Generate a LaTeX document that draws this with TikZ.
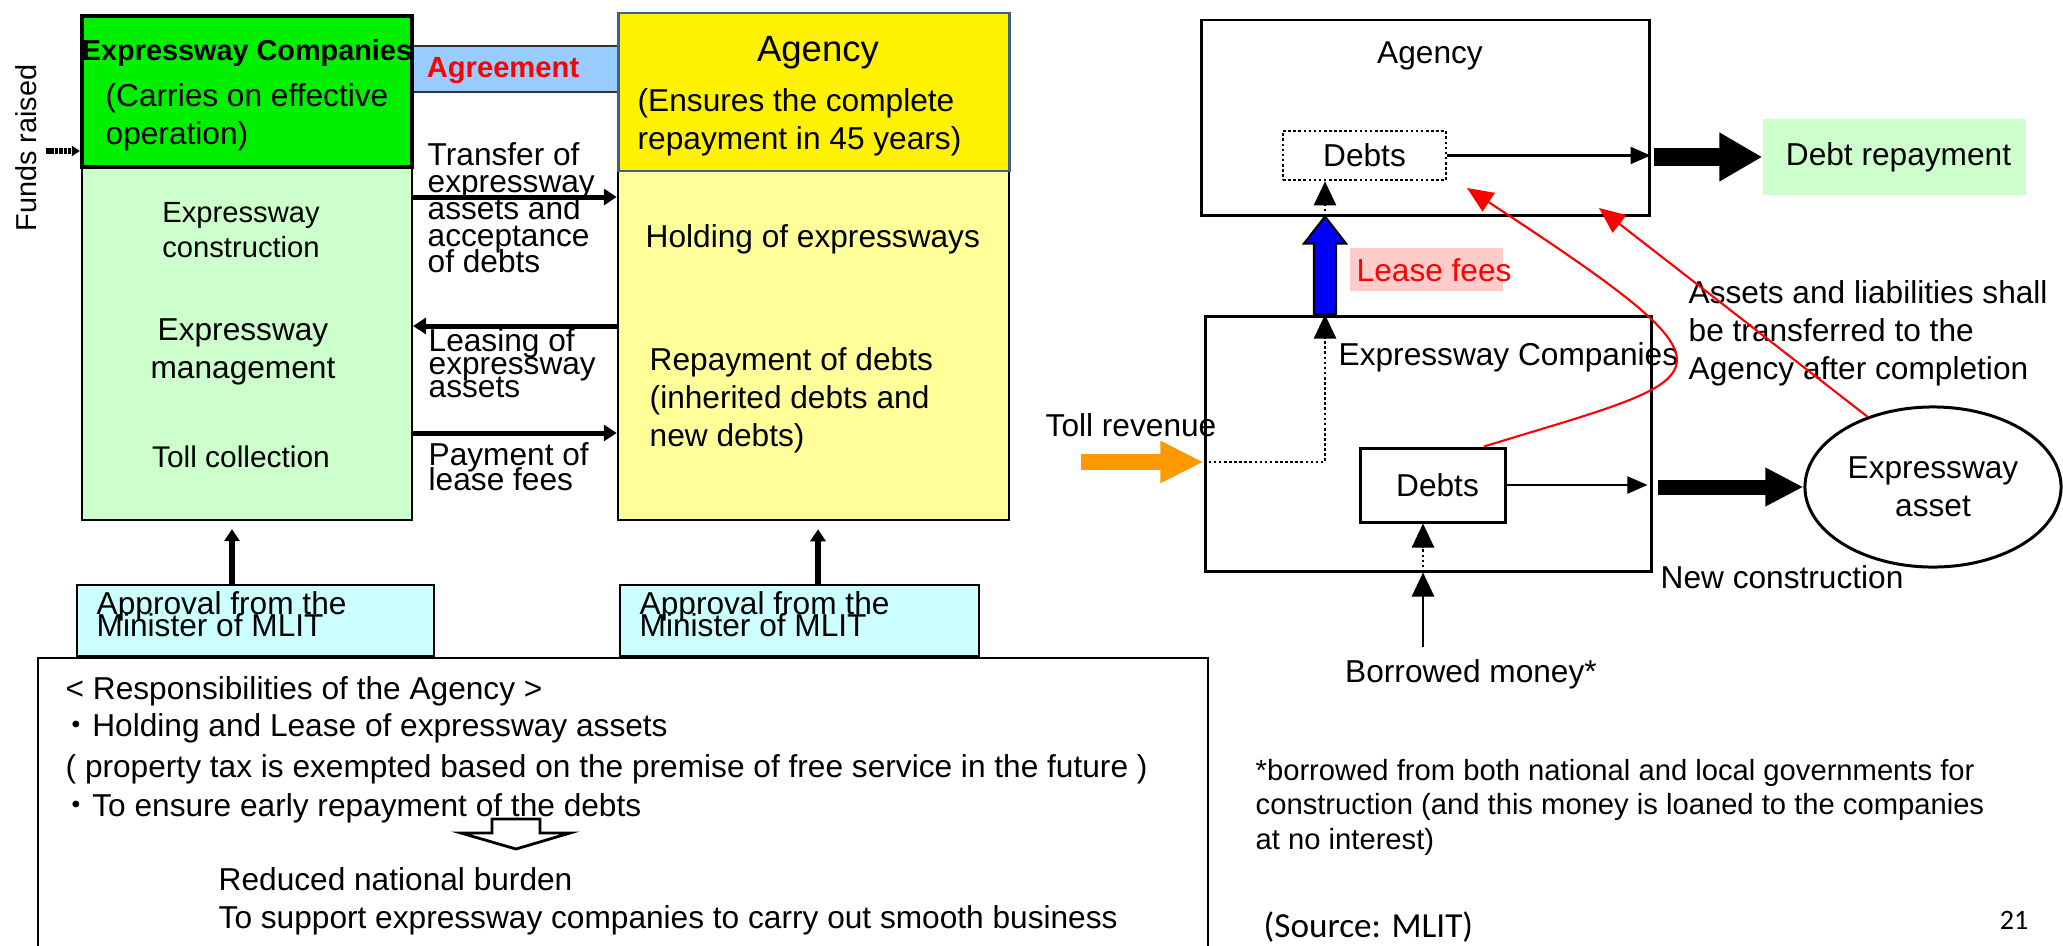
\documentclass[tikz,border=0pt]{standalone}
\usepackage{fontspec}
\setmainfont{Liberation Sans}
\newfontfamily\carlito{Carlito}
\newfontfamily\cjk{Noto Sans CJK JP}
\usetikzlibrary{arrows.meta, fit, shapes.geometric}

\definecolor{hwgreen}{RGB}{0,240,0}
\definecolor{palegreen}{RGB}{204,255,204}
\definecolor{paleyellow}{RGB}{255,255,153}
\definecolor{agreeblue}{RGB}{153,204,255}
\definecolor{palecyan}{RGB}{204,255,255}
\definecolor{pinkbg}{RGB}{255,204,204}
\definecolor{tollorange}{RGB}{255,153,0}
\definecolor{agencyrim}{RGB}{65,95,140}

\newcommand{\fsz}[2]{\fontsize{#1}{#2}\selectfont\lineskiplimit=-\maxdimen}

\tikzset{
  box/.style={draw, inner sep=0pt, line width=0.85pt},
  txt/.style={inner sep=0pt, font=\fsz{9}{10.8}},
  tight/.style={inner sep=0pt, align=left, font=\fsz{9}{7.6}},
  flow/.style={line width=0.05cm, -{Triangle[length=0.13cm, width=0.16cm]}},
  uparrow/.style={line width=0.06cm, -{Triangle[length=0.12cm, width=0.15cm]}},
  linkarrow/.style={line width=0.6pt, -{Triangle[length=0.2cm, width=0.17cm]}},
  dotline/.style={line width=0.75pt, dash pattern=on 0.75pt off 0.7pt},
  dottip/.style={-{Triangle[length=0.24cm, width=0.22cm]}},
  bigarrow/.style={line width=0.18cm, -{Triangle[length=0.43cm, width=0.46cm]}},
  redline/.style={red, line width=0.6pt, -{Triangle[length=0.26cm, width=0.22cm]}},
}

\begin{document}
\begin{tikzpicture}[x=0.01cm, y=-0.01cm]
  \useasboundingbox (0,0) rectangle (2063,945);

  % companies and agency columns
  \node[box, fill=agreeblue, draw=black!80, fit={(412,46) (618,92)}] (agree) {};
  \node[box, fill=palegreen, line width=0.6pt, fit={(82,167) (412,520)}] (ecobody) {};
  \node[box, fill=hwgreen, line width=1.2pt, fit={(82,16) (412,167)}] (ecohead) {};
  \node[box, fill=paleyellow, line width=0.7pt, fit={(618,171) (1009,520)}] (agbody) {};
  \node[box, fill=yellow, draw=agencyrim, fit={(618,13) (1009,171)}] (aghead) {};

  \node[txt, font=\bfseries\fsz{8.2}{10}] (econame) at (247,53) {Expressway Companies};
  \node[txt, anchor=west, align=left] (ecorole) at (105,117) {(Carries on effective\\operation)};
  \node[txt, align=center, font=\fsz{8.3}{10}] (build) at (241,230) {Expressway\\construction};
  \node[txt, align=center] (manage) at (243,352) {Expressway\\management};
  \node[txt, font=\fsz{8.5}{10}] (toll) at (241,457) {Toll collection};
  \node[txt, text=red, font=\bfseries\fsz{8.3}{10}] (agreelbl) at (503,71) {Agreement};

  \node[txt, font=\fsz{10.4}{12}] (agname) at (818,53) {Agency};
  \node[txt, anchor=west, align=left] (agrole) at (637,122) {(Ensures the complete\\repayment in 45 years)};
  \node[txt, anchor=west] (hold) at (645,239) {Holding of expressways};
  \node[txt, anchor=west, align=left] (repay) at (649,400) {Repayment of debts\\(inherited debts and\\new debts)};

  \node[tight, anchor=west] (transfer) at (427,208) {Transfer of\\expressway\\assets and\\acceptance\\of debts};
  \node[tight, anchor=west, font=\fsz{9}{6.5}] (leasing) at (428,363) {Leasing of\\expressway\\assets};
  \node[tight, anchor=west, font=\fsz{9}{7.1}] (payment) at (428,467) {Payment of\\lease fees};

  \draw[flow] (ecobody.east |- 0,197) -- (agbody.west |- 0,197);
  \draw[flow] (agbody.west |- 0,326) -- (ecobody.east |- 0,326);
  \draw[flow] (ecobody.east |- 0,433) -- (agbody.west |- 0,433);

  \node[txt, rotate=90, font=\fsz{8.2}{10}] (funds) at (26,148) {Funds raised};
  \coordinate (fundsin) at (46,151);
  \draw[line width=0.6mm, dash pattern=on 1pt off 0.25pt, -{Triangle[length=0.08cm, width=0.1cm]}]
    (fundsin) -- (fundsin -| ecohead.west);

  % approvals
  \node[box, fill=palecyan, line width=0.6pt, fit={(77,585) (434,656)}] (okeco) {};
  \node[box, fill=palecyan, line width=0.6pt, fit={(620,585) (979,656)}] (okag) {};
  \node[tight, anchor=west, font=\fsz{9}{6.3}] at (96,614) {Approval from the\\Minister of MLIT};
  \node[tight, anchor=west, font=\fsz{9}{6.3}] at (639,614) {Approval from the\\Minister of MLIT};
  \draw[uparrow, shorten >=0.08cm] (okeco.north -| 232,0) -- (ecobody.south -| 232,0);
  \draw[uparrow, shorten >=0.08cm] (okag.north -| 818,0) -- (agbody.south -| 818,0);

  % responsibilities
  \node[box, line width=0.6pt, fit={(38,658) (1208,1000)}] (duties) {};
  \node[txt, anchor=west] at (65,691) {< Responsibilities of the Agency >};
  \node[txt, anchor=west] at (60,728) {{\cjk ・}Holding and Lease of expressway assets};
  \node[txt, anchor=west] at (65,769) {( property tax is exempted based on the premise of free service in the future )};
  \node[txt, anchor=west] at (60,808) {{\cjk ・}To ensure early repayment of the debts};
  \draw[line width=0.8pt, fill=white] (492,819) -- (540,819) -- (540,833) -- (570,833)
    -- (516,849) -- (461,833) -- (492,833) -- cycle;
  \node[txt, anchor=west, align=left] at (218,901) {Reduced national burden\\To support expressway companies to carry out smooth business};

  % right: money flows
  \node[box, fit={(1201,20) (1649,215)}] (ragency) {};
  \node[txt] at (1430,56) {Agency};
  \node[box, dotline, fit={(1283,131) (1446,180)}] (rdebt) {};
  \node[txt] at (rdebt) {Debts};
  \node[fill=palegreen, inner sep=0pt, fit={(1763,119) (2026,195)}] (repaid) {};
  \node[txt] at ([xshift=0.04cm]repaid) {Debt repayment};
  \draw[linkarrow] (rdebt.east) -- (rdebt.east -| ragency.east);
  \draw[bigarrow] ([xshift=0.03cm]ragency.east |- repaid.west) -- (repaid.west);

  \node[box, fit={(1205,316) (1651,571)}] (rcomp) {};
  \node[txt, anchor=west] at (1338,357) {Expressway Companies};
  \node[box, fit={(1360,448) (1505,522)}] (rdebt2) {};
  \node[txt] at ([xshift=0.05cm]rdebt2) {Debts};
  \node[draw, ellipse, line width=0.85pt, minimum width=2.56cm, minimum height=1.6cm,
    txt, align=center] (asset) at (1933,487) {Expressway\\asset};
  \node[txt, anchor=west] at (1660,577) {New construction};
  \draw[linkarrow, shorten >=0.05cm] (rdebt2.east) -- (rdebt2.east -| rcomp.east);
  \draw[bigarrow, line width=0.15cm, -{Triangle[length=0.38cm, width=0.36cm]}]
    ([xshift=0.05cm]rcomp.east |- asset.west) -- (asset.west);

  % lease fees
  \draw[fill=blue, line width=0.6pt] (rcomp.north -| 1325,0) ++(-11,0) -- ++(0,-71) -- ++(-10,0)
    -- ++(21,-27) -- ++(21,27) -- ++(-10,0) -- ++(0,71) -- cycle;
  \node[fill=pinkbg, inner sep=0pt, fit={(1350,248) (1503,291)}] (feebg) {};
  \node[txt, text=red, anchor=west] (fee) at (1356,270) {Lease fees};

  % toll revenue
  \node[txt, anchor=west] (tollrev) at (1045,425) {Toll revenue};
  \coordinate (tollsrc) at (1081,462);
  \draw[tollorange, line width=0.16cm, -{Triangle[length=0.43cm, width=0.39cm]}]
    (tollsrc) -- (tollsrc -| rcomp.west);
  \draw[dotline, dottip] (tollsrc -| rcomp.west) -| (rcomp.north -| 1325,0);
  \draw[dotline, dottip] (ragency.south -| 1325,0) -- (rdebt.south -| 1325,0);

  % borrowing
  \node[txt] (borrow) at (1471,674) {Borrowed money*};
  \draw[line width=0.8pt, dottip] (1423,647) -- (rcomp.south -| 1423,0);
  \draw[dotline, dottip] (rcomp.south -| 1423,0) -- (rdebt2.south -| 1423,0);

  % transfer after completion
  \node[txt, anchor=west, align=left] at (1688,333) {Assets and liabilities shall\\be transferred to the\\Agency after completion};
  \coordinate (debtin) at (1467,188);
  \coordinate (debtin2) at (1599,208);
  \draw[redline] (rdebt2.north -| 1484,0) .. controls (1720,374) and (1760,380) .. (debtin);
  \draw[redline] (asset.133) -- (debtin2);

  % notes
  \node[txt, anchor=west, align=left, font=\fsz{8.3}{9.8}] (note) at (1255,807)
    {*borrowed from both national and local governments for\\construction (and this money is loaned to the companies\\at no interest)};
  \node[inner sep=0pt, anchor=west, font=\carlito\fsz{10}{12}] at (1263,927) {(Source: MLIT)};
  \node[inner sep=0pt, font=\carlito\fsz{8}{10}] at (2014,920) {21};
\end{tikzpicture}
\end{document}
